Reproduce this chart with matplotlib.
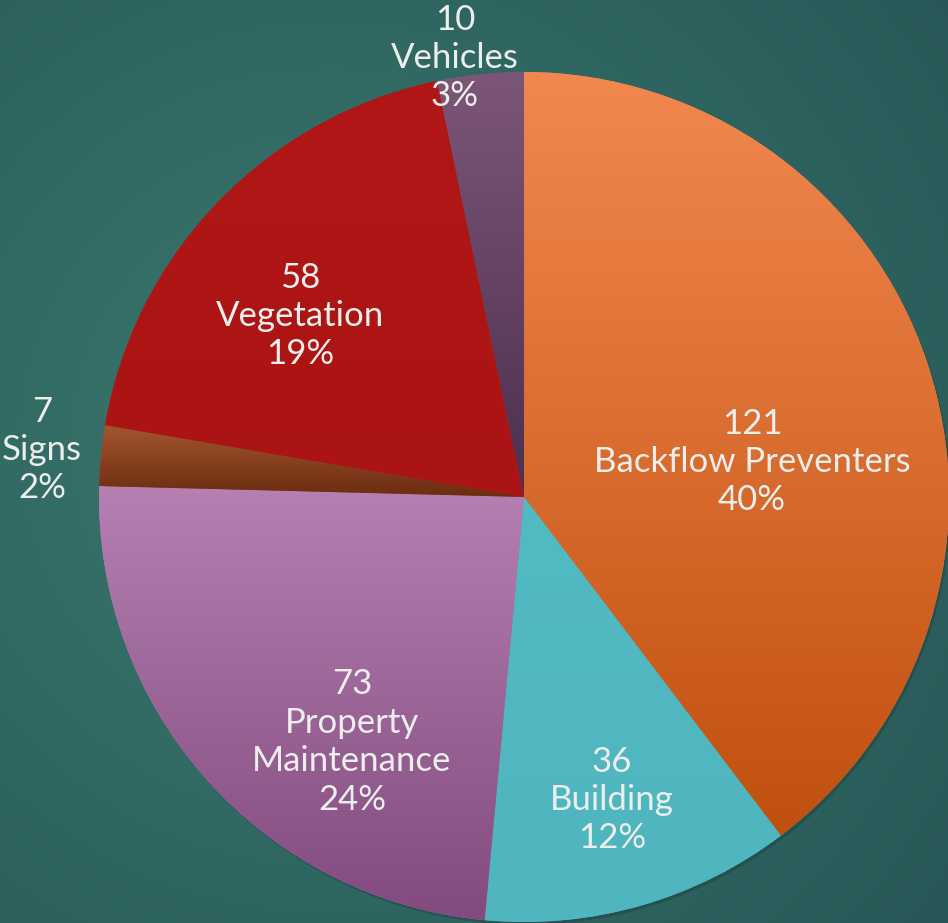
import matplotlib
matplotlib.use("Agg")
import matplotlib.pyplot as plt
import numpy as np
from matplotlib.colors import LinearSegmentedColormap, to_rgb

plt.rcParams['font.family'] = ['Lato', 'DejaVu Sans']

categories = ["Backflow Preventers", "Building", "Property\nMaintenance", "Signs", "Vegetation", "Vehicles"]
counts = [121, 36, 73, 7, 58, 10]
percents = ["40%", "12%", "24%", "2%", "19%", "3%"]

# top / bottom colours of each slice's vertical gradient
top_cols = ["#f2884f", "#52bac3", "#b680b2", "#a4552f", "#b11717", "#7c5679"]
bot_cols = ["#c0500f", "#4fb5bf", "#824a7e", "#6b2c10", "#ab1414", "#4c2f4e"]

# label anchor positions in pixels (x, y from top)
label_pos = [(752, 462), (612, 800), (352, 742), (42, 450), (300, 316), (455, 58)]

W, H = 948, 923
cx, cy, R = 524, H - 497, 425

fig = plt.figure(figsize=(W / 100, H / 100), dpi=100)
ax = fig.add_axes([0, 0, 1, 1])

# background: soft radial gradient
yy, xx = np.mgrid[0:H, 0:W]
d = np.hypot(xx - 330, (H - yy) - 480) / 1000.0
d = np.clip(d, 0, 1)[:, :, None]
light = np.array(to_rgb("#3b796f"))
dark = np.array(to_rgb("#214e50"))
bg = light * (1 - d) + dark * d
ax.imshow(bg, extent=(0, W, 0, H), origin='upper', zorder=0)

# faint shadow under the pie
shadow = plt.Circle((cx + 2, cy - 3), R, color='black', alpha=0.15, zorder=1, lw=0)
ax.add_patch(shadow)

wedges, _ = ax.pie(counts, startangle=90, counterclock=False, center=(cx, cy),
                   radius=R, colors=top_cols, frame=True,
                   wedgeprops=dict(linewidth=0, zorder=2))
ax.set_xlim(0, W)
ax.set_ylim(0, H)
ax.set_aspect('equal')
ax.axis('off')

for w, c1, c2 in zip(wedges, top_cols, bot_cols):
    bb = w.get_path().transformed(w.get_patch_transform()).get_extents()
    cmap = LinearSegmentedColormap.from_list("g", [c1, c2])
    grad = np.linspace(0, 1, 256)[:, None]
    im = ax.imshow(grad, cmap=cmap, aspect='auto', origin='upper',
                   extent=(bb.x0, bb.x1, bb.y0, bb.y1), zorder=3)
    im.set_clip_path(w)

for cat, n, p, (px, py) in zip(categories, counts, percents, label_pos):
    ax.text(px, H - py, f"{n}\n{cat}\n{p}", ha='center', va='center',
            fontsize=25, color='#eceeec', linespacing=1.25, zorder=5)

fig.savefig("out.png", dpi=100)
